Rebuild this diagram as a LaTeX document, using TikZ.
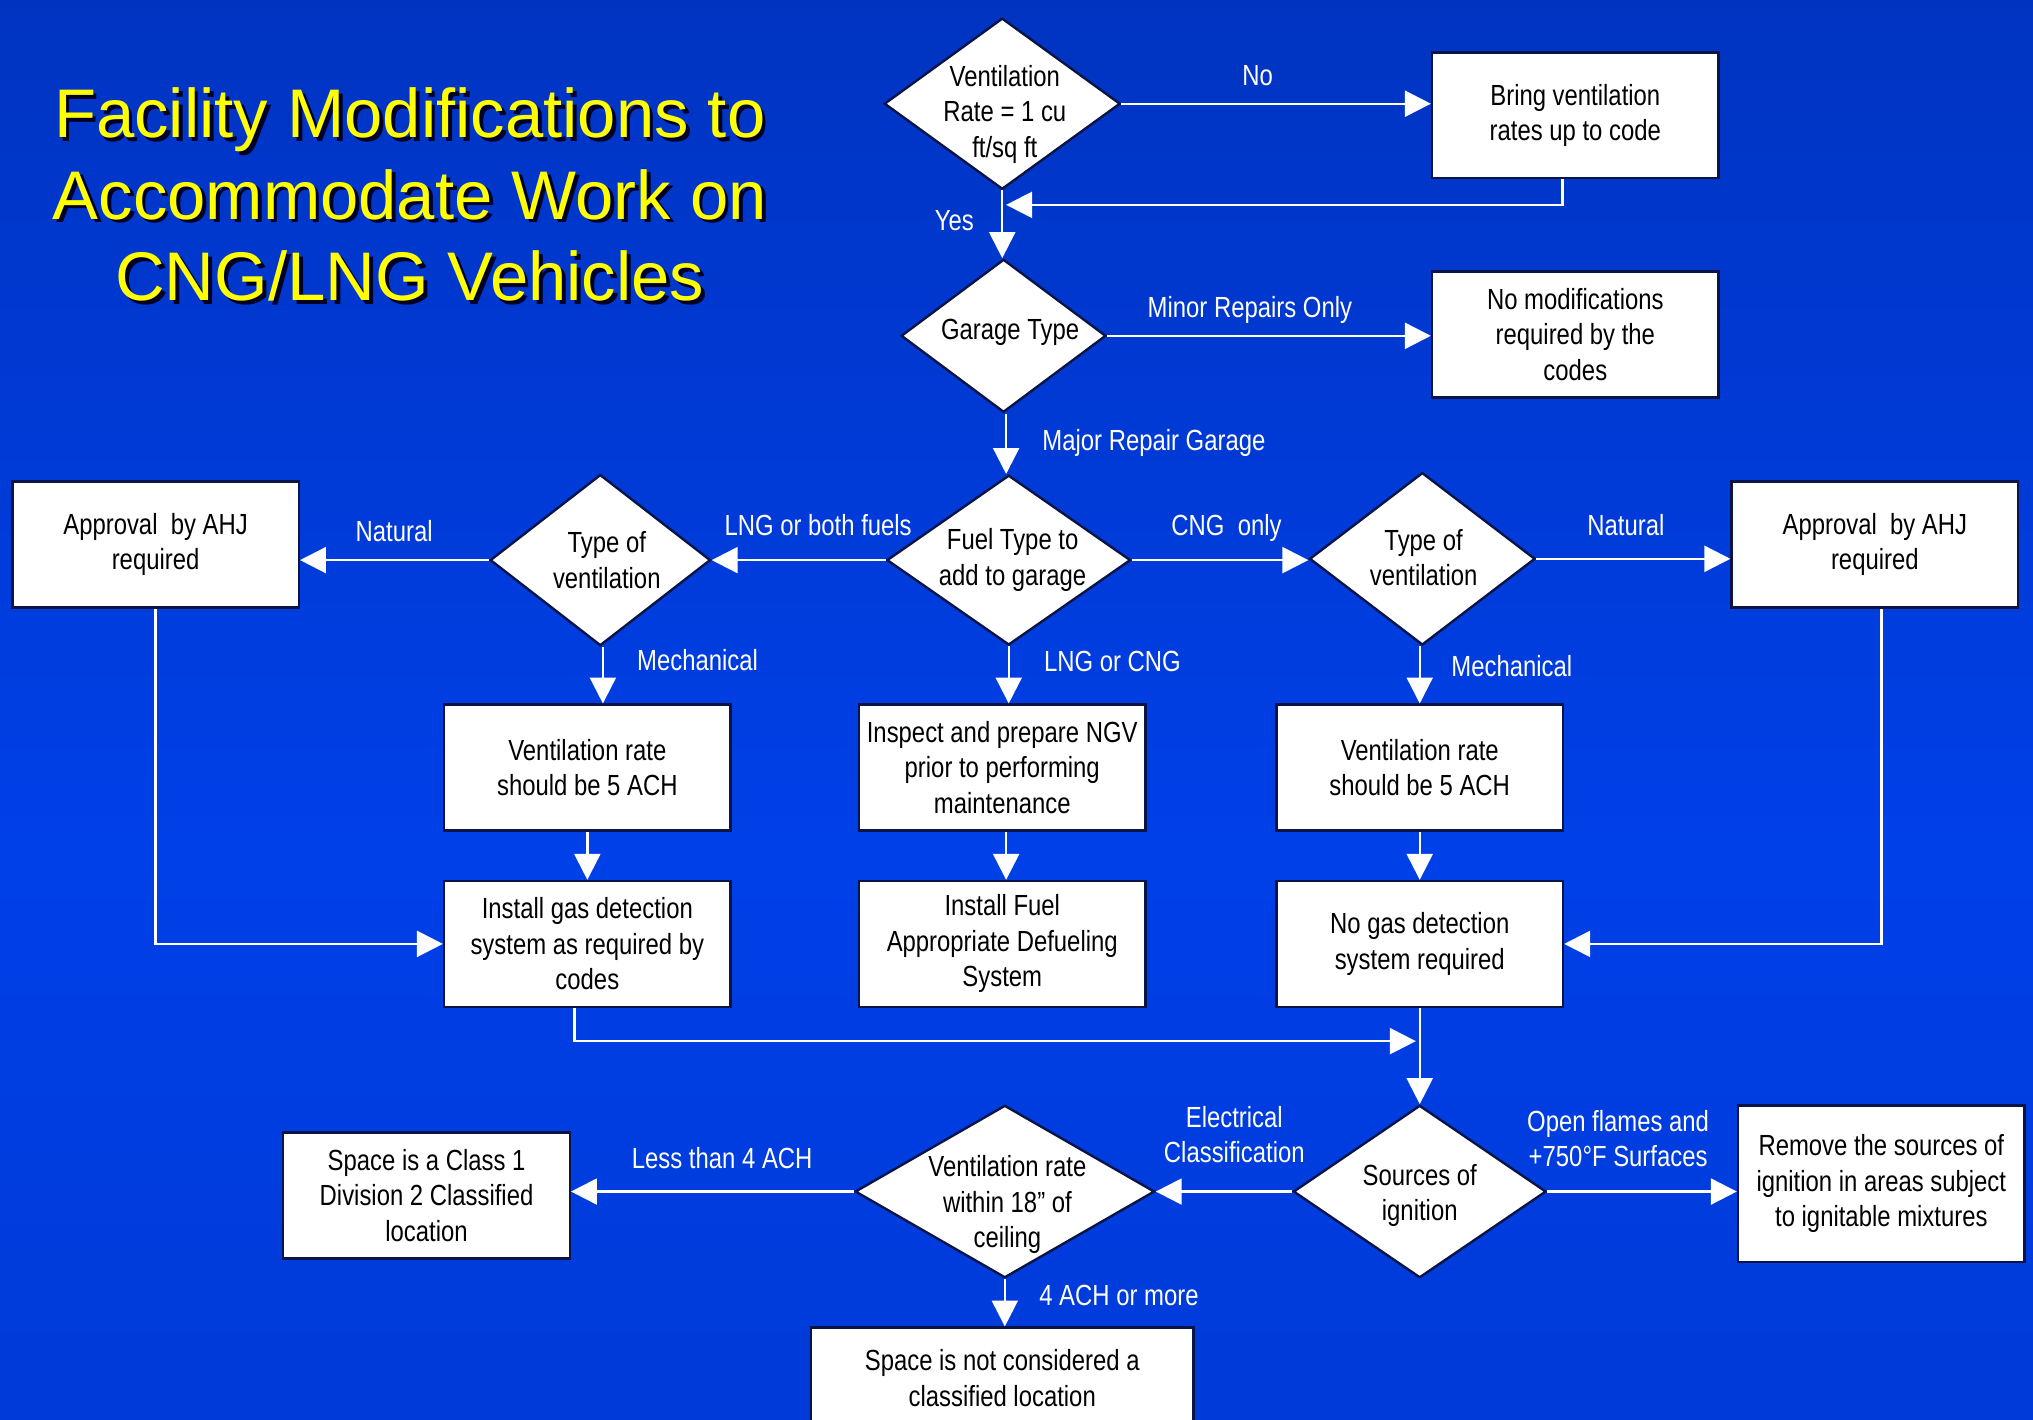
\documentclass[tikz,border=0pt]{standalone}
\usepackage{fontspec}
\setmainfont{Liberation Sans}
\newfontfamily\narrow[FakeStretch=0.82]{Liberation Sans}
\usetikzlibrary{shapes.geometric,arrows.meta}
\definecolor{bgA}{RGB}{0,40,148}
\definecolor{bgB}{RGB}{0,54,200}
\definecolor{bgC}{RGB}{0,64,232}
\definecolor{bgD}{RGB}{0,58,216}
\definecolor{bgE}{RGB}{0,40,152}
\definecolor{edge}{RGB}{10,20,70}
\definecolor{titley}{RGB}{255,255,0}
\pgfdeclareverticalshading{bgshade}{100bp}{color(0bp)=(bgA); color(25bp)=(bgD); color(45bp)=(bgC); color(70bp)=(bgB); color(100bp)=(bgE)}
\def\px{0.65pt}
\tikzset{
  box/.style={draw=edge, line width=1.2pt, fill=white, rectangle, inner sep=0pt,
    minimum width=221*\px, minimum height=97*\px, align=center, text=black,
    font=\narrow\fontsize{14.6}{17.8}\selectfont},
  dia/.style={draw=edge, line width=1.2pt, fill=white, diamond, inner sep=0pt},
  dtext/.style={align=center, text=black, inner sep=0pt, font=\narrow\fontsize{14.6}{17.8}\selectfont},
  lbl/.style={align=center, text=white, inner sep=0pt, font=\narrow\fontsize{14.6}{17.8}\selectfont},
  conn/.style={draw=white, line width=1.2pt},
  arr/.style={conn, -{Triangle[length=13pt,width=13pt,fill=white]}},
  ttl/.style={align=center, inner sep=0pt, font=\fontsize{34.5}{41}\selectfont},
}
\begin{document}
\begin{tikzpicture}[x=0.65pt,y=-0.65pt]
\useasboundingbox (0,0) rectangle (1568,1095);
\shade[shading=bgshade] (0,0) rectangle (1568,1095);

% title
\node[ttl, text=black!85!blue] (tshadow) at (319,153) {Facility Modifications to\\Accommodate Work on\\CNG/LNG Vehicles};
\node[ttl, text=titley] (title) at (316,150) {Facility Modifications to\\Accommodate Work on\\CNG/LNG Vehicles};

% diamonds
\node[dia, minimum width=182*\px, minimum height=132*\px] (d1) at (773,80) {};
\node[dtext] (d1t) at (775,88) {Ventilation\\Rate = 1 cu\\ft/sq ft};
\node[dia, minimum width=158*\px, minimum height=118*\px] (d2) at (774,259) {};
\node[dtext] (d2t) at (779,256) {Garage Type};
\node[dia, minimum width=188*\px, minimum height=131*\px] (d3) at (778,432) {};
\node[dtext] (d3t) at (781,432) {Fuel Type to\\add to garage};
\node[dia, minimum width=170*\px, minimum height=132*\px] (d4) at (463,432) {};
\node[dtext] (d4t) at (468,432) {Type of\\ventilation};
\node[dia, minimum width=174*\px, minimum height=133*\px] (d5) at (1097,431) {};
\node[dtext] (d5t) at (1098,430) {Type of\\ventilation};
\node[dia, minimum width=195*\px, minimum height=133*\px] (d6) at (1095,919) {};
\node[dtext] (d6t) at (1095,922) {Sources of\\ignition};
\node[dia, minimum width=231*\px, minimum height=133*\px] (d7) at (775,919) {};
\node[dtext] (d7t) at (777,929) {Ventilation rate\\within 18” of\\ceiling};

% boxes
\node[box] (b1) at (1215,89) {Bring ventilation\\rates up to code};
\node[box] (b2) at (1215,258) {No modifications\\required by the\\codes};
\node[box] (a1) at (120,420) {Approval\ \ by AHJ\\required};
\node[box] (a2) at (1446,420) {Approval\ \ by AHJ\\required};
\node[box] (v1) at (453,592) {Ventilation rate\\should be 5 ACH};
\node[box] (g1) at (453,728) {Install gas detection\\system as required by\\codes};
\node[box] (i1) at (773,592) {Inspect and prepare NGV\\prior to performing\\maintenance};
\node[box] (f1) at (773,728) {Install Fuel\\Appropriate Defueling\\System};
\node[box] (v2) at (1095,592) {Ventilation rate\\should be 5 ACH};
\node[box] (n1) at (1095,728) {No gas detection\\system required};
\node[box, minimum height=121*\px] (r1) at (1451,913) {Remove the sources of\\ignition in areas subject\\to ignitable mixtures};
\node[box] (s1) at (329,922) {Space is a Class 1\\Division 2 Classified\\location};
\node[box, minimum width=295*\px, minimum height=78*\px] (s2) at (773,1063) {Space is not considered a\\classified location};

% connectors
\coordinate (ret) at (776,158);
\coordinate (j) at (1092,803);
\draw[arr] (d1.east) -- (d1.east -| b1.west);
\draw[arr] ([xshift=-10*\px]b1.south) |- (ret);
\draw[arr] (d1.south) -- (d1.south |- d2.north);
\draw[arr] (d2.east) -- (d2.east -| b2.west);
\draw[arr] ([xshift=2*\px]d2.south) -- ([xshift=2*\px]d2.south |- d3.north);
\draw[arr] (d3.west) -- (d4.east);
\draw[arr] (d4.west) -- (d4.west -| a1.east);
\draw[arr] (d3.east) -- (d3.east -| d5.west);
\draw[arr] (d5.east) -- (d5.east -| a2.west);
\draw[arr] ([xshift=2*\px]d4.south) -- ([xshift=2*\px]d4.south |- v1.north);
\draw[arr] (v1.south) -- (g1.north);
\draw[arr] (a1.south) |- (g1.west);
\draw[arr] ([xshift=-10*\px]g1.south) |- (j);
\draw[arr] (d3.south) -- (d3.south |- i1.north);
\draw[arr] ([xshift=3*\px]i1.south) -- ([xshift=3*\px]f1.north);
\draw[arr] ([xshift=-2*\px]d5.south) -- ([xshift=-2*\px]d5.south |- v2.north);
\draw[arr] (v2.south) -- (n1.north);
\draw[arr] ([xshift=5*\px]a2.south) |- (n1.east);
\draw[arr] (n1.south) -- (d6.north);
\draw[arr] (d6.east) -- (d6.east -| r1.west);
\draw[arr] (d6.west) -- (d7.east);
\draw[arr] (d7.west) -- (d7.west -| s1.east);
\draw[arr] (d7.south) -- (d7.south |- s2.north);

% labels
\node[lbl] (lno) at (970,58) {No};
\node[lbl] (lyes) at (736,170) {Yes};
\node[lbl] (lminor) at (964,239) {Minor Repairs Only};
\node[lbl] (lmajor) at (890,342) {Major Repair Garage};
\node[lbl] (llng) at (631,405) {LNG or both fuels};
\node[lbl] (lnat1) at (304,410) {Natural};
\node[lbl] (lmech1) at (538,509) {Mechanical};
\node[lbl] (llc) at (858,510) {LNG or CNG};
\node[lbl] (lcng) at (946,407) {CNG\ \ only};
\node[lbl] (lnat2) at (1254,405) {Natural};
\node[lbl] (lmech2) at (1166,514) {Mechanical};
\node[lbl] (lelec) at (952,875) {Electrical\\Classification};
\node[lbl] (lopen) at (1248,878) {Open flames and\\+750°F Surfaces};
\node[lbl] (lless) at (557,893) {Less than 4 ACH};
\node[lbl] (lmore) at (863,999) {4 ACH or more};
\end{tikzpicture}
\end{document}
